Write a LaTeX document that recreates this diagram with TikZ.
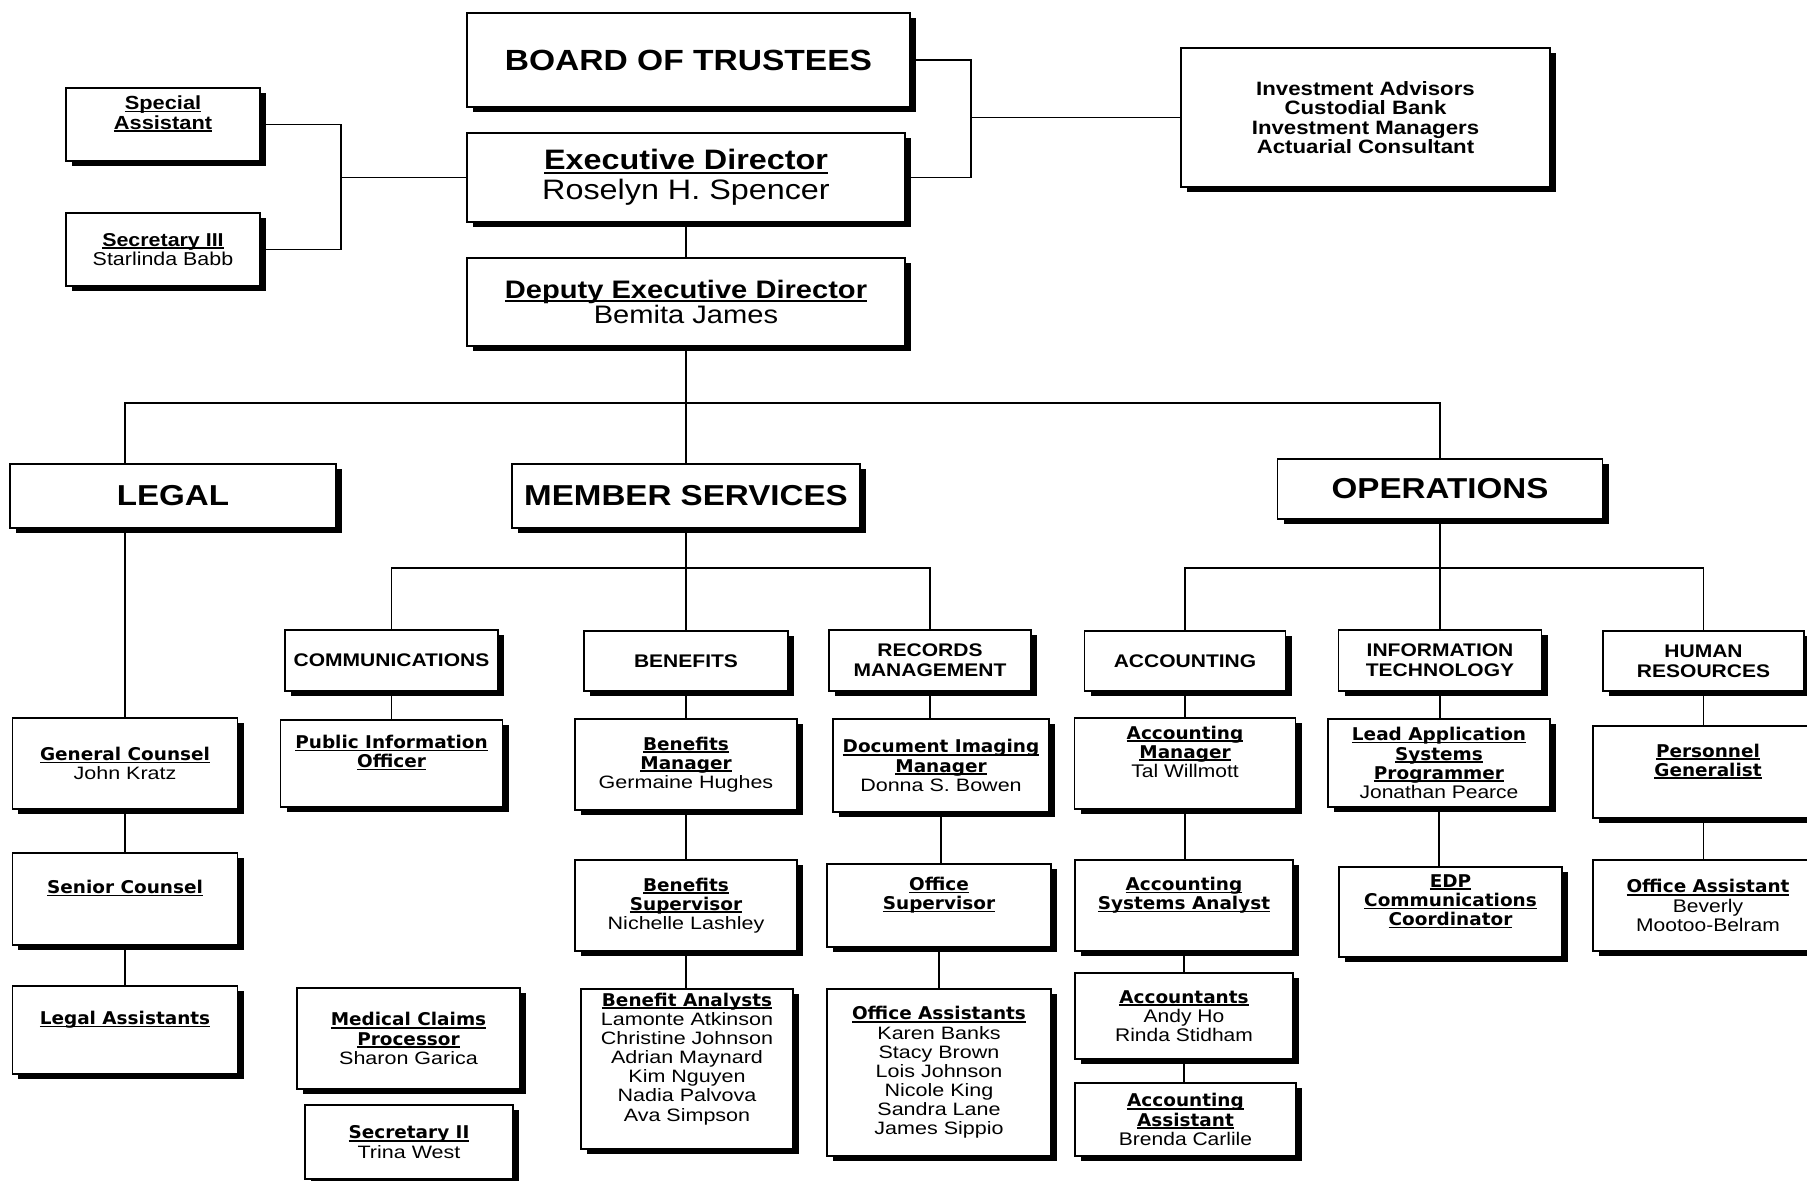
\documentclass[tikz,border=0pt]{standalone}
\usepackage{fontspec}
\setmainfont{Liberation Sans}[FakeStretch=1.15]
\newfontfamily\titlefont{DejaVu Sans}[FakeStretch=1.05]
\newfontfamily\namefont{Liberation Sans}[FakeStretch=1.2]
\usepackage{tikz}
\usetikzlibrary{positioning, shadows}
\newsavebox\ulsave
\newcommand{\fsz}[2]{\fontsize{#1}{#2}\selectfont\lineskiplimit=-20pt}
\newcommand{\ulbox}[1]{\sbox\ulsave{#1}\rlap{\rule[-0.15em]{\wd\ulsave}{0.085em}}\usebox\ulsave}
\newcommand{\ttl}[1]{{\titlefont\bfseries\fsz{5}{5.45}\ulbox{#1}}}
\tikzset{
    box/.style = {rectangle, draw=black, line width=0.55pt, fill=white,
                  align=center, inner sep=1pt,
                  drop shadow={shadow xshift=0.06cm, shadow yshift=-0.05cm,
                               fill=black, opacity=1}},
    unit/.style = {box, font=\bfseries\fsz{8.2}{9}},
    dept/.style = {box, font=\bfseries\fsz{5.2}{5.6}},
    post/.style = {box, font=\namefont\fsz{5.1}{5.45}},
    opspost/.style = {box, font=\fsz{5.2}{5.45}},
    lift/.style = {text depth=0.24cm},
    link/.style = {line width=0.55pt},
}

\begin{document}
\begin{tikzpicture}
    \useasboundingbox (0,0) rectangle (18.07,-11.81);
    % top of the chart
    \node[box, minimum width=4.43cm, minimum height=0.94cm, font=\bfseries\fsz{8.3}{9}] (board) at (6.885,-0.60) {BOARD OF TRUSTEES};
    \node[box, minimum width=4.38cm, minimum height=0.89cm, font=\fsz{8}{8.5}] (exec) at (6.86,-1.775) {{\bfseries\ulbox{Executive Director}}\\Roselyn H. Spencer};
    \node[box, minimum width=4.38cm, minimum height=0.88cm, font=\fsz{7.2}{7.3}] (deputy) at (6.86,-3.02) {{\bfseries\ulbox{Deputy Executive Director}}\\Bemita James};
    \node[box, lift, minimum width=1.94cm, minimum height=0.73cm, font=\bfseries\fsz{5.4}{5.6}] (spec) at (1.63,-1.245) {\ulbox{Special}\\\ulbox{Assistant}};
    \node[box, minimum width=1.94cm, minimum height=0.73cm, font=\fsz{5.3}{5.6}] (sec3) at (1.63,-2.495) {{\bfseries\ulbox{Secretary III}}\\Starlinda Babb};
    \node[box, minimum width=3.69cm, minimum height=1.39cm, font=\bfseries\fsz{5.5}{5.5}] (invest) at (13.655,-1.175) {Investment Advisors\\Custodial Bank\\Investment Managers\\Actuarial Consultant};
    \coordinate (slj) at (3.41,-1.775);
    \coordinate (trj) at (9.71,-1.175);

    % divisions
    \node[unit, minimum width=3.26cm, minimum height=0.64cm] (legal) at (1.73,-4.96) {LEGAL};
    \node[unit, minimum width=3.48cm, minimum height=0.64cm] (member) at (6.86,-4.96) {MEMBER SERVICES};
    \node[unit, minimum width=3.25cm, minimum height=0.60cm] (ops) at (14.40,-4.89) {OPERATIONS};
    \coordinate (dbus) at (6.86,-4.03);
    \coordinate (mbus) at (6.86,-5.68);
    \coordinate (obus) at (14.40,-5.68);

    % departments
    \node[dept, minimum width=2.13cm, minimum height=0.61cm] (comm) at (3.915,-6.605) {COMMUNICATIONS};
    \node[dept, minimum width=2.04cm, minimum height=0.60cm] (benefits) at (6.86,-6.61) {BENEFITS};
    \node[dept, minimum width=2.02cm, minimum height=0.61cm] (records) at (9.30,-6.605) {RECORDS\\MANAGEMENT};
    \node[dept, minimum width=2.01cm, minimum height=0.60cm] (acct) at (11.85,-6.61) {ACCOUNTING};
    \node[dept, minimum width=2.03cm, minimum height=0.61cm] (it) at (14.40,-6.605) {INFORMATION\\TECHNOLOGY};
    \node[dept, minimum width=2.01cm, minimum height=0.60cm] (hr) at (17.035,-6.61) {HUMAN\\RESOURCES};

    % legal
    \node[post, minimum width=2.25cm, minimum height=0.91cm] (gc) at (1.25,-7.635) {\ttl{General Counsel}\\John Kratz};
    \node[post, lift, minimum width=2.25cm, minimum height=0.92cm] (senior) at (1.25,-8.99) {\ttl{Senior Counsel}};
    \node[post, lift, minimum width=2.25cm, minimum height=0.88cm] (legalasst) at (1.25,-10.30) {\ttl{Legal Assistants}};

    % member services
    \node[post, lift, minimum width=2.22cm, minimum height=0.87cm] (pio) at (3.915,-7.635) {\ttl{Public Information}\\\ttl{Officer}};
    \node[post, minimum width=2.23cm, minimum height=1.01cm] (medclaims) at (4.085,-10.385) {\ttl{Medical Claims}\\\ttl{Processor}\\Sharon Garica};
    \node[post, minimum width=2.08cm, minimum height=0.74cm] (sec2) at (4.09,-11.42) {\ttl{Secretary II}\\Trina West};
    \node[post, minimum width=2.22cm, minimum height=0.91cm] (benmgr) at (6.86,-7.645) {\ttl{Benefits}\\\ttl{Manager}\\Germaine Hughes};
    \node[post, minimum width=2.22cm, minimum height=0.91cm] (bensup) at (6.86,-9.055) {\ttl{Benefits}\\\ttl{Supervisor}\\Nichelle Lashley};
    \node[post, lift, minimum width=2.12cm, minimum height=1.60cm] (benan) at (6.87,-10.69) {\ttl{Benefit Analysts}\\Lamonte Atkinson\\Christine Johnson\\Adrian Maynard\\Kim Nguyen\\Nadia Palvova\\Ava Simpson};
    \node[post, minimum width=2.16cm, minimum height=0.93cm] (docimg) at (9.41,-7.655) {\ttl{Document Imaging}\\\ttl{Manager}\\Donna S. Bowen};
    \node[post, lift, minimum width=2.24cm, minimum height=0.83cm] (offsup) at (9.39,-9.055) {\ttl{Office}\\\ttl{Supervisor}};
    \node[post, minimum width=2.24cm, minimum height=1.67cm] (offasst) at (9.39,-10.725) {\ttl{Office Assistants}\\Karen Banks\\Stacy Brown\\Lois Johnson\\Nicole King\\Sandra Lane\\James Sippio};

    % operations
    \node[opspost, lift, minimum width=2.21cm, minimum height=0.91cm] (acctmgr) at (11.85,-7.635) {\ttl{Accounting}\\\ttl{Manager}\\Tal Willmott};
    \node[opspost, lift, minimum width=2.18cm, minimum height=0.91cm] (acctsys) at (11.84,-9.055) {\ttl{Accounting}\\\ttl{Systems Analyst}};
    \node[opspost, minimum width=2.18cm, minimum height=0.86cm] (accts) at (11.84,-10.16) {\ttl{Accountants}\\Andy Ho\\Rinda Stidham};
    \node[opspost, minimum width=2.21cm, minimum height=0.73cm] (acctasst) at (11.855,-11.195) {\ttl{Accounting}\\\ttl{Assistant}\\Brenda Carlile};
    \node[opspost, minimum width=2.22cm, minimum height=0.88cm] (leadprog) at (14.39,-7.63) {\ttl{Lead Application}\\\ttl{Systems}\\\ttl{Programmer}\\Jonathan Pearce};
    \node[opspost, lift, minimum width=2.23cm, minimum height=0.90cm] (edp) at (14.505,-9.12) {\ttl{EDP}\\\ttl{Communications}\\\ttl{Coordinator}};
    \node[opspost, lift, minimum width=2.30cm, minimum height=0.92cm] (persgen) at (17.08,-7.72) {\ttl{Personnel}\\\ttl{Generalist}};
    \node[opspost, minimum width=2.30cm, minimum height=0.91cm] (offasst2) at (17.08,-9.055) {\ttl{Office Assistant}\\Beverly\\Mootoo-Belram};

    % connectors
    \draw[link] (spec.east) -| (slj) |- (sec3.east);
    \draw[link] (slj) -- (exec.west);
    \draw[link] (board.east) -| (trj) |- (exec.east);
    \draw[link] (trj) -- (invest.west);
    \draw[link] (exec.south) -- (deputy.north);
    \draw[link] (deputy.south) -- (member.north);
    \draw[link] ([xshift=-4.8mm]legal.north) |- (dbus) -| (ops.north);
    \draw[link] (gc.north |- legal.south) -- (gc.north);
    \draw[link] (gc.south) -- (senior.north);
    \draw[link] (senior.south) -- (legalasst.north);
    \draw[link] (member.south) -- (benefits.north);
    \draw[link] (comm.north) |- (mbus) -| (records.north);
    \draw[link] (comm.south) -- (pio.north);
    \draw[link] (benefits.south) -- (benmgr.north);
    \draw[link] (benmgr.south) -- (bensup.north);
    \draw[link] (bensup.south) -- (bensup.south |- benan.north);
    \draw[link] (records.south) -- (records.south |- docimg.north);
    \draw[link] (docimg.south) -- (docimg.south |- offsup.north);
    \draw[link] (offsup.south) -- (offsup.south |- offasst.north);
    \draw[link] (ops.south) -- (it.north);
    \draw[link] (acct.north) |- (obus) -| (hr.north);
    \draw[link] (acct.south) -- (acctmgr.north);
    \draw[link] (acctmgr.south) -- (acctmgr.south |- acctsys.north);
    \draw[link] (acctsys.south) -- (accts.north);
    \draw[link] (accts.south) -- (accts.south |- acctasst.north);
    \draw[link] (it.south) -- (it.south |- leadprog.north);
    \draw[link] (leadprog.south) -- (leadprog.south |- edp.north);
    \draw[link] (hr.south) -- (hr.south |- persgen.north);
    \draw[link] (hr.south |- persgen.south) -- (hr.south |- offasst2.north);
\end{tikzpicture}
\end{document}
